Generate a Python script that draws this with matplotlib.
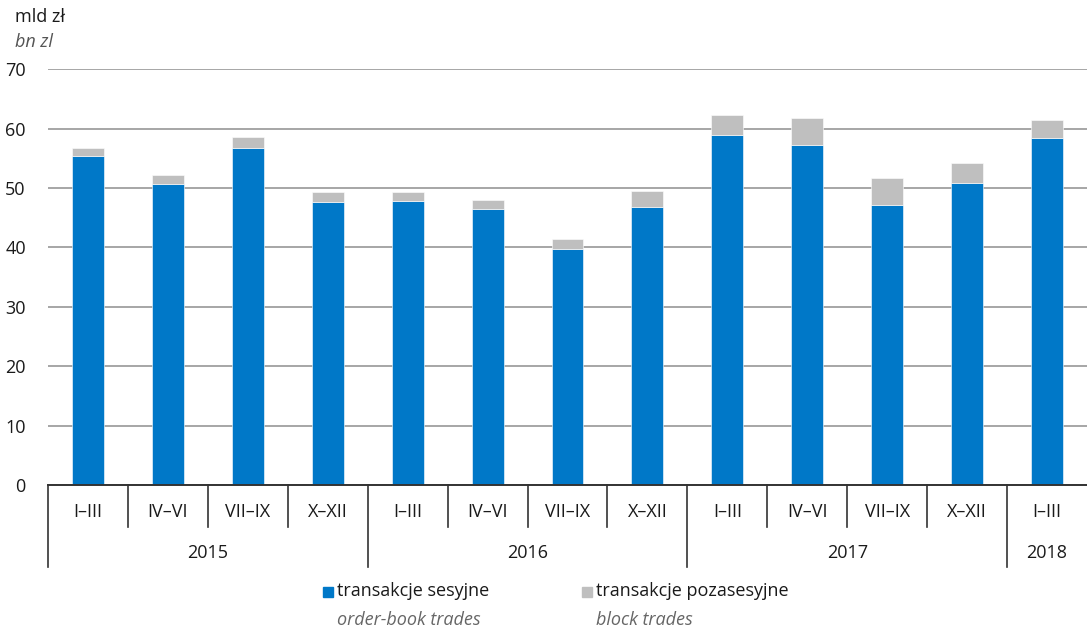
import numpy as np
import matplotlib
matplotlib.use("Agg")
from matplotlib import pyplot as plt
from matplotlib.patches import Rectangle
import matplotlib.transforms as mtransforms

plt.rcParams['font.family'] = ['Open Sans', 'DejaVu Sans']

# quarterly turnover, bn zl
quarters = ['I–III', 'IV–VI', 'VII–IX', 'X–XII',
            'I–III', 'IV–VI', 'VII–IX', 'X–XII',
            'I–III', 'IV–VI', 'VII–IX', 'X–XII',
            'I–III']
years = ['2015', '2016', '2017', '2018']
quarters_per_year = [4, 4, 4, 1]
order_book = [55.4, 50.7, 56.8, 47.6, 47.8, 46.5, 39.7, 46.8, 59.0, 57.2, 47.2, 50.8, 58.5]
totals = [56.7, 52.2, 58.6, 49.3, 49.3, 48.0, 41.5, 49.5, 62.3, 61.8, 51.7, 54.2, 61.4]
block = [t - o for t, o in zip(totals, order_book)]

blue = '#0078c8'
grey = '#bfbfbf'
txt = '#1a1a1a'

fig = plt.figure(figsize=(10.87, 6.32), dpi=100)
ax = fig.add_axes([48/1087, 1 - 485/632, 1 - 48/1087, (485 - 69.3)/632])

x = np.arange(len(quarters))
ax.bar(x, order_book, width=0.4, color=blue, edgecolor='white', linewidth=0.4, zorder=3)
ax.bar(x, block, width=0.4, bottom=order_book, color=grey, edgecolor='white', linewidth=0.4, zorder=3)

ax.set_xlim(-0.5, len(quarters) - 0.5)
ax.set_ylim(0, 70)
ax.set_yticks(range(0, 71, 10))
ax.yaxis.grid(True, color='#a6a6a6', linewidth=1.4, zorder=0)
ax.set_axisbelow(True)
for s in ['left', 'right', 'top']:
    ax.spines[s].set_visible(False)
ax.spines['bottom'].set_color('#333333')
ax.spines['bottom'].set_linewidth(1.4)
ax.spines['bottom'].set_zorder(4)
ax.tick_params(axis='y', length=0, pad=16, labelsize=13, labelcolor=txt)
ax.set_xticks([])

# two-level category axis
trans = mtransforms.blended_transform_factory(ax.transData, ax.transAxes)
year_starts = np.cumsum([0] + quarters_per_year)
for i in range(len(quarters)):
    ax.text(i, -0.065, quarters[i], transform=trans, ha='center', va='center',
            fontsize=13, color=txt)
for b in range(len(quarters)):
    depth = -0.197 if b in year_starts else -0.101
    ax.plot([b - 0.5, b - 0.5], [0, depth], transform=trans, color='#333333',
            linewidth=1.2, clip_on=False)
for k, yr in enumerate(years):
    mid = (year_starts[k] + year_starts[k + 1] - 1) / 2
    ax.text(mid, -0.164, yr, transform=trans, ha='center', va='center',
            fontsize=13, color=txt)

# units
fig.text(15/1087, 1 - 17/632, 'mld zł', fontsize=13, color=txt, va='center')
fig.text(15/1087, 1 - 42/632, 'bn zl', fontsize=13, color='#555555', style='italic', va='center')

# legend
for lx, col, pl, en in [(323, blue, 'transakcje sesyjne', 'order-book trades'),
                        (582, grey, 'transakcje pozasesyjne', 'block trades')]:
    fig.add_artist(Rectangle((lx/1087, 1 - 597/632), 10/1087, 10/632,
                             transform=fig.transFigure, color=col))
    fig.text((lx + 14)/1087, 1 - 591/632, pl, fontsize=13, color=txt, va='center')
    fig.text((lx + 14)/1087, 1 - 620/632, en, fontsize=13, color='#666666',
             style='italic', va='center')

fig.savefig('out.png', dpi=100)
